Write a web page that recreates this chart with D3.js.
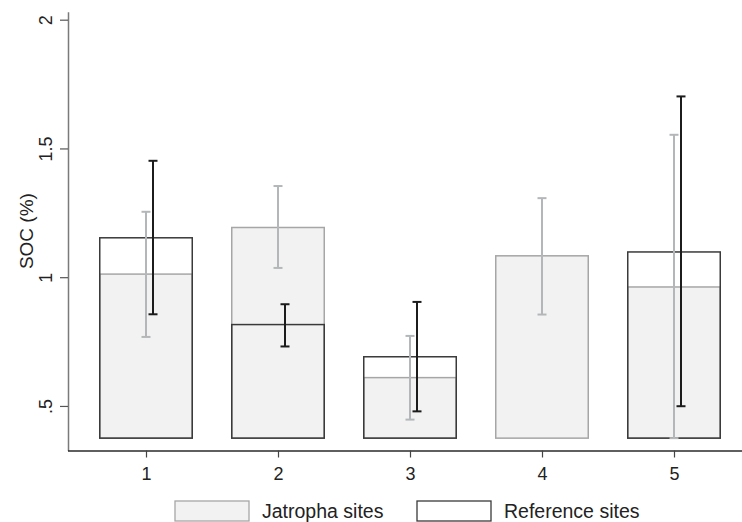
<!DOCTYPE html>
<html>
<head>
<meta charset="utf-8">
<script src="https://cdn.jsdelivr.net/npm/d3@7/dist/d3.min.js"></script>
<style>
  html, body { margin: 0; padding: 0; background: #fff; }
  svg { display: block; font-family: "Liberation Sans", Arial, Helvetica, sans-serif; }
</style>
</head>
<body>
<svg id="chart" width="742" height="522"></svg>
<script>
// Sites
const categories = ["1", "2", "3", "4", "5"];

// Mean SOC (%) per site
const jatrophaMean = [1.012, 1.193, 0.610, 1.083, 0.962];
const referenceMean = [1.153, 0.816, 0.691, null, 1.098];

// Confidence intervals
const jatrophaLow  = [0.768, 1.036, 0.447, 0.855, 0.375];
const jatrophaHigh = [1.254, 1.354, 0.772, 1.307, 1.553];
const referenceLow  = [0.856, 0.731, 0.479, null, 0.499];
const referenceHigh = [1.452, 0.895, 0.904, null, 1.702];

// Bars start from the bottom of the plotted range
const barBase = 0.375;

const yTicks = [0.5, 1, 1.5, 2];
const yTickLabels = [".5", "1", "1.5", "2"];
const yTitle = "SOC (%)";
const legendLabels = ["Jatropha sites", "Reference sites"];

const svg = d3.select("#chart");

const colJFill = "#f2f2f2";
const colJStroke = "#a6a6a6";
const colRStroke = "#3a3a3a";
const colJErr = "#b3b7ba";
const colRErr = "#1c1c1c";

const y = d3.scaleLinear().domain([0.327, 2.031]).range([450.5, 11.7]);
const x = d3.scalePoint().domain(categories).range([146, 674]);
const barW = 92.5;
const errOffset = 7;
const capW = 9;

const rows = categories.map((c, i) => ({
  c,
  jm: jatrophaMean[i], jl: jatrophaLow[i], jh: jatrophaHigh[i],
  rm: referenceMean[i], rl: referenceLow[i], rh: referenceHigh[i]
}));

// Y axis
const yAxis = d3.axisLeft(y).tickValues(yTicks)
  .tickFormat((d, i) => yTickLabels[i]).tickSize(8).tickSizeOuter(0);
const gy = svg.append("g").attr("transform", "translate(68,0)").call(yAxis);
gy.select(".domain").attr("stroke", "#7a7a7a").attr("stroke-width", 1.5);
gy.selectAll(".tick line").attr("stroke", "#555").attr("stroke-width", 1.2);
gy.selectAll(".tick text").remove();
gy.selectAll(".tick").append("text")
  .attr("transform", "translate(-16,0) rotate(-90)")
  .attr("text-anchor", "middle")
  .attr("fill", "#222")
  .style("font-size", "18px")
  .text((d, i) => yTickLabels[i]);

// Y title
svg.append("text")
  .attr("transform", `translate(33,${(y.range()[0] + y.range()[1]) / 2}) rotate(-90)`)
  .attr("text-anchor", "middle")
  .attr("fill", "#222")
  .style("font-size", "19px")
  .text(yTitle);

// X axis
const xAxis = d3.axisBottom(x).tickSize(7).tickSizeOuter(0);
const gx = svg.append("g").attr("transform", "translate(0,450.5)").call(xAxis);
gx.select(".domain").attr("d", "M68,0.5H742").attr("stroke", "#2a2a2a").attr("stroke-width", 1.5);
gx.selectAll(".tick line").attr("stroke", "#444").attr("stroke-width", 1.2);
gx.selectAll(".tick text").attr("y", 17).attr("fill", "#222")
  .style("font-size", "18px").attr("font-family", null);

// Jatropha bars
svg.append("g").selectAll("rect").data(rows).join("rect")
  .attr("x", d => x(d.c) - barW / 2)
  .attr("width", barW)
  .attr("y", d => y(d.jm))
  .attr("height", d => y(barBase) - y(d.jm))
  .attr("fill", colJFill)
  .attr("stroke", colJStroke)
  .attr("stroke-width", 1.5);

// Reference bars (outline only)
svg.append("g").selectAll("rect").data(rows.filter(d => d.rm != null)).join("rect")
  .attr("x", d => x(d.c) - barW / 2)
  .attr("width", barW)
  .attr("y", d => y(d.rm))
  .attr("height", d => y(barBase) - y(d.rm))
  .attr("fill", "none")
  .attr("stroke", colRStroke)
  .attr("stroke-width", 1.5);

// Error bars
function errorBars(data, cx, lo, hi, color) {
  const g = svg.append("g").attr("stroke", color).attr("stroke-width", 2).attr("fill", "none");
  const sel = g.selectAll("g").data(data).join("g");
  sel.append("line").attr("x1", cx).attr("x2", cx)
    .attr("y1", d => y(hi(d))).attr("y2", d => y(lo(d)));
  sel.append("line").attr("x1", d => cx(d) - capW / 2).attr("x2", d => cx(d) + capW / 2)
    .attr("y1", d => y(hi(d))).attr("y2", d => y(hi(d)));
  sel.append("line").attr("x1", d => cx(d) - capW / 2).attr("x2", d => cx(d) + capW / 2)
    .attr("y1", d => y(lo(d))).attr("y2", d => y(lo(d)));
}
errorBars(rows, d => x(d.c), d => d.jl, d => d.jh, colJErr);
errorBars(rows.filter(d => d.rm != null), d => x(d.c) + errOffset, d => d.rl, d => d.rh, colRErr);

// Legend
const legend = svg.append("g");
const legendItems = [
  { label: legendLabels[0], x: 175, fill: colJFill, stroke: colJStroke },
  { label: legendLabels[1], x: 417, fill: "#fff", stroke: colRStroke }
];
const li = legend.selectAll("g").data(legendItems).join("g")
  .attr("transform", d => `translate(${d.x},501)`);
li.append("rect").attr("width", 74).attr("height", 20)
  .attr("fill", d => d.fill).attr("stroke", d => d.stroke).attr("stroke-width", 1.3);
li.append("text").attr("x", 87).attr("y", 17).attr("fill", "#222")
  .style("font-size", "19.5px").text(d => d.label);
</script>
</body>
</html>
